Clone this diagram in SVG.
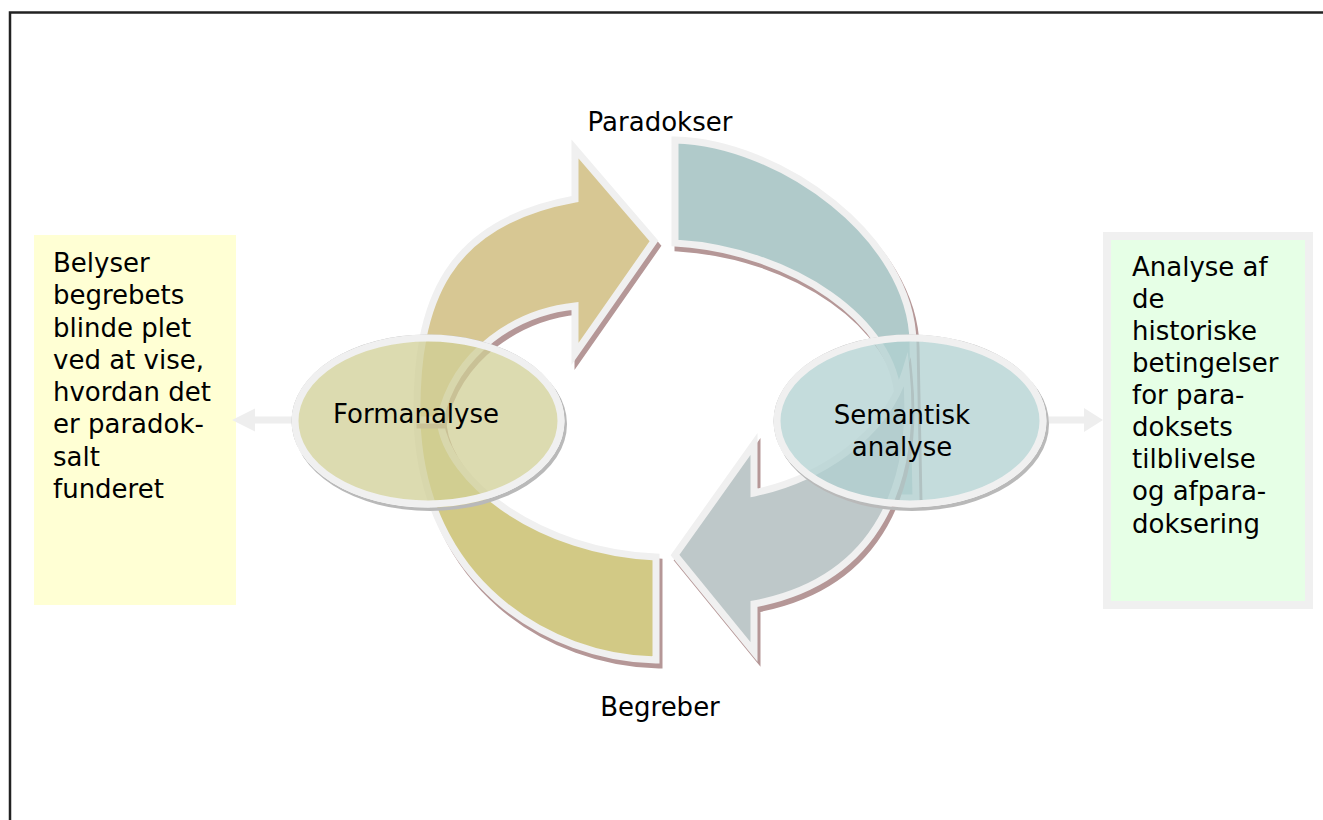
<svg xmlns="http://www.w3.org/2000/svg" xmlns:xlink="http://www.w3.org/1999/xlink" width="1323" height="820" viewBox="0 0 1323 820">
<style>
.t{font-family:"DejaVu Sans",Verdana,sans-serif;font-size:26px;fill:#000}
.band{stroke:#f0f0f0;stroke-width:7;stroke-linejoin:miter;stroke-miterlimit:10}
.shadow{fill:#b59797;stroke:#b59797;stroke-width:7;stroke-linejoin:miter;stroke-miterlimit:10}
.ell{stroke:#f0f0f0;stroke-width:7}
.eshadow{fill:#b9b9b9;fill-rule:evenodd}
.conn{fill:#eeeeee}
</style>
<defs>
<path id="p-gold-arrow" d="M417,420 C415,300 448,222 575,199 L575,149 L654,241 L575,354 L575,306 C518,312 455,350 440,420 Z"/>
<path id="p-gold-arc" d="M656,557 L656,660 C548,658 422,582 417,420 L440,420 C447,482 540,552 656,557 Z"/>
<path id="p-teal-arc" d="M675,140 C782,143 911,238 913,342 L916,498 L898,498 L898,400 C896,322 792,250 675,243 Z"/>
<path id="p-gray-arrow" d="M906,370 C917,480 880,580 754,604 L754,652 L675,555 L754,444 L754,493 C815,480 885,440 906,370 Z"/>
</defs>
<rect width="1323" height="820" fill="#ffffff"/>
<path d="M10,830 V12.5 H1335" fill="none" stroke="#222222" stroke-width="2.5"/>
<g id="box-left">
<rect x="34" y="235" width="202" height="370" fill="#ffffd4"/>
<text class="t" x="53" y="272">Belyser</text>
<text class="t" x="53" y="304">begrebets</text>
<text class="t" x="53" y="337">blinde plet</text>
<text class="t" x="53" y="369">ved at vise,</text>
<text class="t" x="53" y="401">hvordan det</text>
<text class="t" x="53" y="433">er paradok-</text>
<text class="t" x="53" y="466">salt</text>
<text class="t" x="53" y="498">funderet</text>
</g>
<g id="box-right">
<rect x="1107" y="236" width="202" height="369" fill="#e6ffe6" stroke="#f0f0f0" stroke-width="8"/>
<text class="t" x="1132" y="276">Analyse af</text>
<text class="t" x="1132" y="308">de</text>
<text class="t" x="1132" y="340">historiske</text>
<text class="t" x="1132" y="372">betingelser</text>
<text class="t" x="1132" y="404">for para-</text>
<text class="t" x="1132" y="436">doksets</text>
<text class="t" x="1132" y="468">tilblivelse</text>
<text class="t" x="1132" y="500">og afpara-</text>
<text class="t" x="1132" y="533">doksering</text>
</g>
<g id="arc-teal">
<use xlink:href="#p-teal-arc" class="shadow" transform="translate(3,5)"/>
<use xlink:href="#p-teal-arc" class="band" fill="#b0caca"/>
</g>
<g id="arc-gold">
<use xlink:href="#p-gold-arc" class="shadow" transform="translate(3,5)"/>
<use xlink:href="#p-gold-arc" class="band" fill="#d2c985"/>
</g>
<g id="arrow-gold">
<use xlink:href="#p-gold-arrow" class="shadow" transform="translate(3,5)"/>
<use xlink:href="#p-gold-arrow" class="band" fill="#d7c793"/>
</g>
<g id="arrow-gray">
<use xlink:href="#p-gray-arrow" class="shadow" transform="translate(3,5)"/>
<use xlink:href="#p-gray-arrow" class="band" fill="#bec8c9"/>
</g>
<g id="label-paradokser"><text class="t" x="660" y="131" text-anchor="middle">Paradokser</text></g>
<g id="label-begreber"><text class="t" x="660" y="716" text-anchor="middle">Begreber</text></g>
<g id="connectors">
<rect class="conn" x="252" y="416.5" width="42" height="7"/>
<polygon class="conn" points="232,420 255,408.5 255,431.5"/>
<rect class="conn" x="1046" y="416.5" width="39" height="7"/>
<polygon class="conn" points="1084,408 1103,420 1084,432"/>
</g>
<g id="node-formanalyse">
<path class="eshadow" d="M293,424 A137,87 0 1,0 567,424 A137,87 0 1,0 293,424 Z M291.5,421 A136.5,86.5 0 1,1 564.5,421 A136.5,86.5 0 1,1 291.5,421 Z"/>
<ellipse class="ell" cx="428" cy="421" rx="133" ry="83" fill="#d0cf96" fill-opacity="0.75"/>
<text class="t" x="416" y="423" text-anchor="middle">Formanalyse</text>
</g>
<g id="node-semantisk">
<path class="eshadow" d="M775,424 A137,87 0 1,0 1049,424 A137,87 0 1,0 775,424 Z M773.5,421 A136.5,86.5 0 1,1 1046.5,421 A136.5,86.5 0 1,1 773.5,421 Z"/>
<ellipse class="ell" cx="910" cy="421" rx="133" ry="83" fill="#b0d0d0" fill-opacity="0.75"/>
<text class="t" x="902" y="424" text-anchor="middle">Semantisk</text>
<text class="t" x="902" y="456" text-anchor="middle">analyse</text>
</g>
</svg>
